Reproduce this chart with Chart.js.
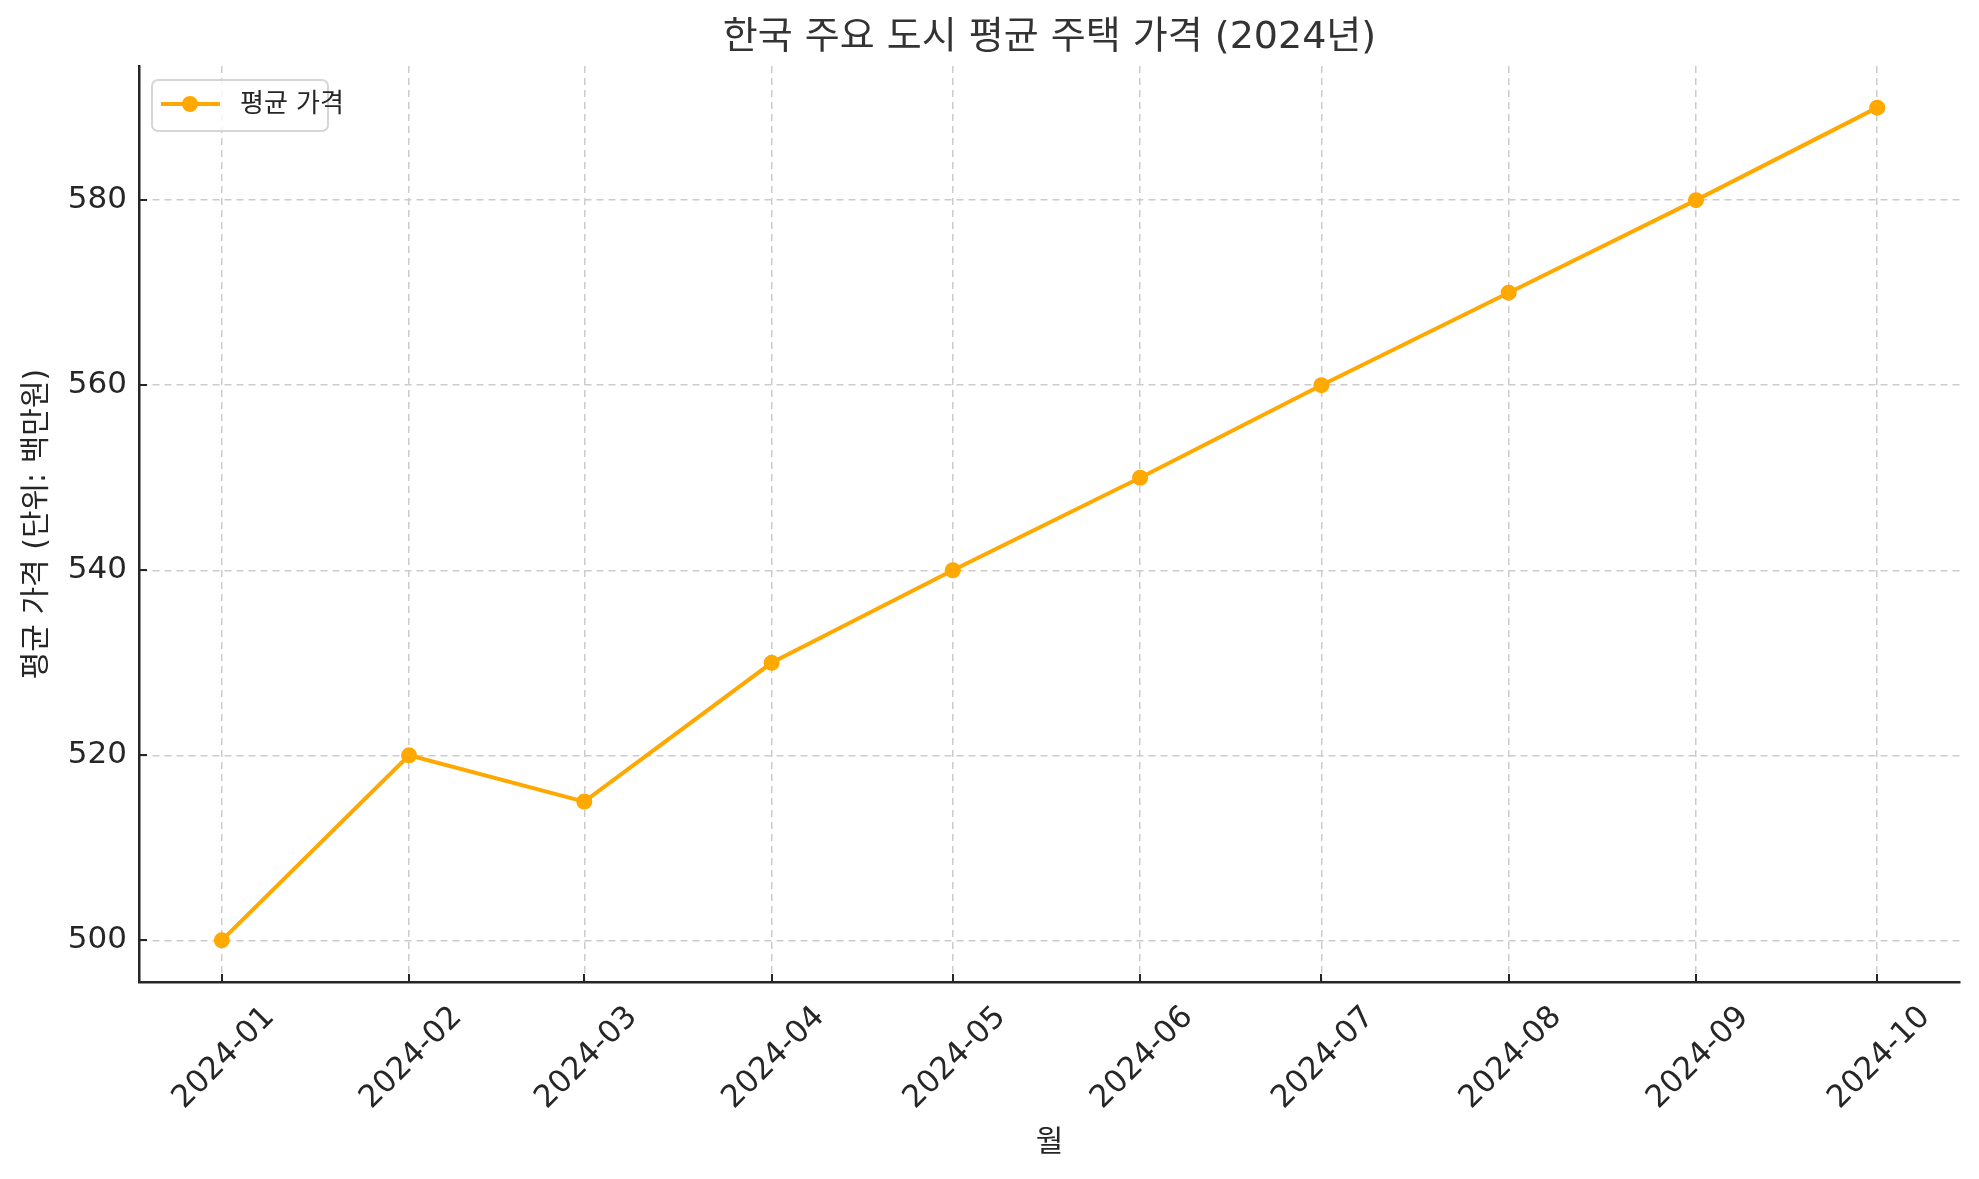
<!DOCTYPE html>
<html><head><meta charset="utf-8">
<script src="https://cdn.jsdelivr.net/npm/chart.js@4"></script>
<style>html,body{margin:0;padding:0;background:#fff}#wrap{width:1979px;height:1179px}</style>
</head><body><div id="wrap"><canvas id="c" width="1979" height="1179"></canvas></div>
<script>
const months = ['2024-01','2024-02','2024-03','2024-04','2024-05','2024-06','2024-07','2024-08','2024-09','2024-10'];
const prices = [500, 520, 515, 530, 540, 550, 560, 570, 580, 590];
const yTicks = [500, 520, 540, 560, 580];
const titleText = '한국 주요 도시 평균 주택 가격 (2024년)';
const xTitle = '월';
const yTitle = '평균 가격 (단위: 백만원)';
const seriesLabel = '평균 가격';

// date axis: x = days since first month (months have real lengths)
const DAY = 86400000;
const toDay = s => { const [y, m] = s.split('-').map(Number); return (Date.UTC(y, m - 1, 1) - Date.UTC(2024, 0, 1)) / DAY; };
const xDays = months.map(toDay);
const span = xDays[xDays.length - 1] - xDays[0];
const xMin = xDays[0] - span * 0.05, xMax = xDays[xDays.length - 1] + span * 0.05;

const FONT = '"DejaVu Sans", "Noto Sans CJK KR", sans-serif';
const LINE = '#FFA800';
const INK = '#262626';

const deco = {
  id: 'deco',
  afterDraw(chart) {
    const ctx = chart.ctx, a = chart.chartArea;
    const xs = chart.scales.x, ys = chart.scales.y;
    ctx.save();
    ctx.setLineDash([]);
    ctx.strokeStyle = INK; ctx.lineWidth = 2;
    xDays.forEach(d => {
      const x = Math.round(xs.getPixelForValue(d));
      ctx.beginPath(); ctx.moveTo(x, a.bottom); ctx.lineTo(x, a.bottom - 8); ctx.stroke();
    });
    yTicks.forEach(v => {
      const y = Math.round(ys.getPixelForValue(v));
      ctx.beginPath(); ctx.moveTo(a.left, y); ctx.lineTo(a.left + 8, y); ctx.stroke();
    });
    const fs = 31;
    ctx.font = fs + 'px ' + FONT;
    ctx.fillStyle = INK;
    ctx.textAlign = 'center'; ctx.textBaseline = 'alphabetic';
    months.forEach((m, i) => {
      const x = xs.getPixelForValue(xDays[i]);
      const w = ctx.measureText(m).width;
      const h = fs * 0.73;
      const half = (w + h) / 2 * Math.SQRT1_2;
      ctx.save();
      ctx.translate(x, a.bottom + 20 + half);
      ctx.rotate(-Math.PI / 4);
      ctx.fillText(m, 0, h / 2);
      ctx.restore();
    });
    const cx = (a.left + a.right) / 2;
    ctx.fillStyle = '#333333';
    ctx.font = '38px ' + FONT;
    ctx.textBaseline = 'middle';
    ctx.fillText(titleText, cx, 38);
    ctx.fillStyle = INK;
    ctx.font = '30px ' + FONT;
    ctx.fillText(xTitle, cx, 1143);
    ctx.save();
    ctx.translate(37, (a.top + a.bottom) / 2);
    ctx.rotate(-Math.PI / 2);
    ctx.fillText(yTitle, 0, 0);
    ctx.restore();
    ctx.beginPath();
    ctx.roundRect(152, 80, 176, 51, 6);
    ctx.fillStyle = 'rgba(255,255,255,0.8)'; ctx.fill();
    ctx.strokeStyle = '#d6d6d6'; ctx.lineWidth = 2; ctx.stroke();
    ctx.strokeStyle = LINE; ctx.lineWidth = 4;
    ctx.beginPath(); ctx.moveTo(161, 104); ctx.lineTo(220, 104); ctx.stroke();
    ctx.fillStyle = LINE;
    ctx.beginPath(); ctx.arc(190, 104, 8, 0, Math.PI * 2); ctx.fill();
    ctx.fillStyle = INK; ctx.font = '26px ' + FONT;
    ctx.textAlign = 'left'; ctx.textBaseline = 'middle';
    ctx.fillText(seriesLabel, 240, 105);
    ctx.restore();
  }
};

const gridOpts = { color: '#cccccc', lineWidth: 1.5, drawTicks: false };
const borderOpts = { color: INK, width: 2.5, dash: [7, 5] };
new Chart(document.getElementById('c'), {
  type: 'line',
  data: {
    datasets: [{
      label: seriesLabel,
      data: prices.map((v, i) => ({ x: xDays[i], y: v })),
      borderColor: LINE,
      backgroundColor: LINE,
      borderWidth: 4,
      pointRadius: 8,
      pointHoverRadius: 8,
      pointBorderWidth: 0,
      tension: 0
    }]
  },
  options: {
    responsive: false,
    animation: false,
    devicePixelRatio: 1,
    layout: { padding: { top: 66, right: 19, left: 0, bottom: 0 } },
    plugins: { legend: { display: false }, title: { display: false }, tooltip: { enabled: false } },
    scales: {
      x: {
        type: 'linear', min: xMin, max: xMax,
        afterBuildTicks: s => { s.ticks = xDays.map(d => ({ value: d })); },
        afterFit: s => { s.height = 197; },
        ticks: { display: false },
        grid: Object.assign({}, gridOpts),
        border: Object.assign({}, borderOpts)
      },
      y: {
        type: 'linear', min: 495.5, max: 594.5,
        afterBuildTicks: s => { s.ticks = yTicks.map(v => ({ value: v })); },
        afterFit: s => { s.width = 139; },
        ticks: { font: { size: 31, family: FONT }, color: INK, padding: 12 },
        grid: Object.assign({}, gridOpts),
        border: Object.assign({}, borderOpts)
      }
    }
  },
  plugins: [deco]
});
</script>
</body></html>
